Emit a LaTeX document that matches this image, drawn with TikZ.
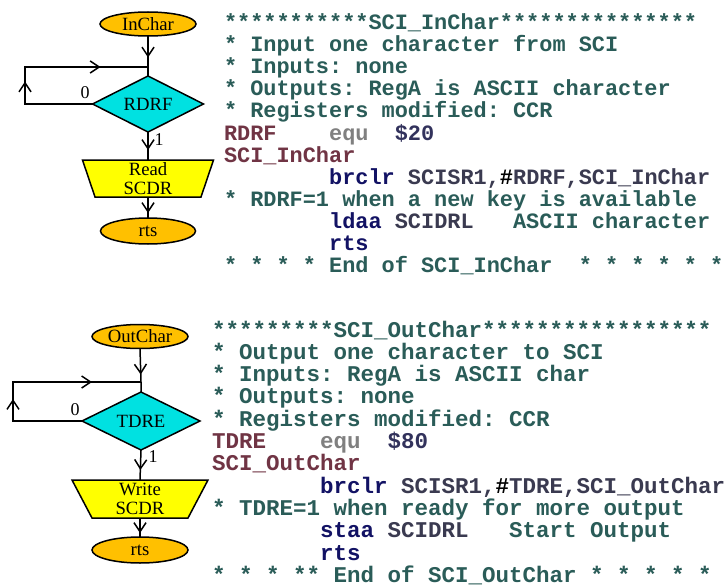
\documentclass[tikz,border=0pt]{standalone}
\usepackage{fontspec}
\usetikzlibrary{shapes.geometric,arrows.meta,decorations.markings,backgrounds}
\newfontfamily\chartfont{Liberation Serif}
\newfontfamily\codefont{Liberation Mono}

% flowchart colours
\definecolor{termfill}{RGB}{255,192,0}
\definecolor{testfill}{RGB}{0,225,225}
\definecolor{iofill}{RGB}{255,255,0}
% listing colours
\definecolor{cmt}{RGB}{42,92,88}
\definecolor{lbl}{RGB}{112,52,68}
\definecolor{eqc}{RGB}{128,128,128}
\definecolor{numc}{RGB}{50,50,92}
\definecolor{opc}{RGB}{18,18,100}
\definecolor{argc}{RGB}{58,58,80}

\newcommand\kcm[1]{{\color{cmt}#1}}
\newcommand\klb[1]{{\color{lbl}#1}}
\newcommand\keq[1]{{\color{eqc}#1}}
\newcommand\knum[1]{{\color{numc}#1}}
\newcommand\kop[1]{{\color{opc}#1}}
\newcommand\karg[1]{{\color{argc}#1}}
\newcommand\sk[1]{\hspace*{\dimexpr 0.6em*#1\relax}}

\tikzset{
  flow/.style={line width=1.5pt, draw=black},
  terminal/.style={ellipse, flow, fill=termfill, inner sep=0pt, outer sep=0pt,
    font=\chartfont\fontsize{18.7}{18}\selectfont},
  test/.style={diamond, flow, fill=testfill, inner sep=0pt, outer sep=0pt, shape aspect=2,
    font=\chartfont\fontsize{18.7}{18}\selectfont},
  iobox/.style={rectangle, inner sep=0pt, outer sep=0pt, align=center,
    font=\chartfont\fontsize{18.7}{18.5}\selectfont},
  branch/.style={inner sep=0pt, font=\chartfont\fontsize{18}{18}\selectfont},
  tipA/.tip={Straight Barb[length=9pt,width=12pt]},
  arrowat/.style={postaction={decorate,decoration={markings,
    mark=at position #1 with {\arrow[line width=1.5pt]{tipA}}}}},
  codeA/.style={anchor=base west, inner sep=0pt, outer sep=0pt,
    font=\codefont\bfseries\fontsize{21.9}{22.5}\selectfont\frenchspacing},
  codeB/.style={anchor=base west, inner sep=0pt, outer sep=0pt,
    font=\codefont\bfseries\fontsize{22.5}{22.6}\selectfont\frenchspacing},
}

\begin{document}
\begin{tikzpicture}[x=1pt,y=-1pt]
\begin{scope}[on background layer]
  \fill[white] (0,0) rectangle (726,586);
\end{scope}
\useasboundingbox (0,0) rectangle (726,586);

% ---------- SCI_InChar flowchart ----------
\node[terminal, minimum width=96pt, minimum height=24pt] (inchar) at (148,24) {InChar};
\node[test, minimum width=111pt, minimum height=56pt] (rdrf) at (148,104) {RDRF};
\node[iobox, minimum width=131pt, minimum height=37pt] (read) at (148,178.5) {Read\\SCDR};
\node[terminal, minimum width=95pt, minimum height=26pt] (rtsA) at (148,231) {rts};
\coordinate (j1) at (148,67);
\coordinate (l1) at (25,67);
\coordinate (l2) at (25,104);
\begin{scope}[on background layer]
  \draw[flow, fill=iofill] (read.north west) -- (read.north east)
    -- ([xshift=-12.5pt]read.south east) -- ([xshift=12.5pt]read.south west) -- cycle;
\end{scope}
\draw[flow, arrowat=21.5pt] (inchar.south) -- (j1) -- (rdrf.north);
\draw[flow, line join=miter, arrowat=90pt, arrowat=180pt] (rdrf.west) -- (l2) -- (l1) -- (j1);
\draw[flow, arrowat=18pt] (rdrf.south) -- (read.north);
\draw[flow, arrowat=16pt] (read.south) -- (rtsA.north);
\node[branch] (zeroA) at (85,93) {0};
\node[branch] (oneA) at (159,140) {1};

% ---------- SCI_OutChar flowchart ----------
\node[terminal, minimum width=96pt, minimum height=24pt] (outchar) at (140,336.5) {OutChar};
\node[test, minimum width=118pt, minimum height=58pt] (tdre) at (141,421) {TDRE};
\node[iobox, minimum width=136pt, minimum height=38pt] (write) at (140,499) {Write\\SCDR};
\node[terminal, minimum width=96pt, minimum height=26pt] (rtsB) at (140,550) {rts};
\coordinate (j2) at (141,382);
\coordinate (l3) at (13,382);
\coordinate (l4) at (13,421);
\begin{scope}[on background layer]
  \draw[flow, fill=iofill] (write.north west) -- (write.north east)
    -- ([xshift=-20pt]write.south east) -- ([xshift=20pt]write.south west) -- cycle;
\end{scope}
\draw[flow, arrowat=26pt] (outchar.south) -- (j2) -- (tdre.north);
\draw[flow, line join=miter, arrowat=91pt, arrowat=187pt] (tdre.west) -- (l4) -- (l3) -- (j2);
\draw[flow, arrowat=20pt] (tdre.south) -- (write.north);
\draw[flow, arrowat=15pt] (write.south) -- (rtsB.north);
\node[branch] (zeroB) at (75,410) {0};
\node[branch] (oneB) at (153,457) {1};

% ---------- SCI_InChar listing ----------
\node[codeA] (a1)  at (224,29.5)  {\kcm{***********SCI\_InChar***************}};
\node[codeA] (a2)  at (224,51.6)  {\kcm{* Input one character from SCI}};
\node[codeA] (a3)  at (224,73.7)  {\kcm{* Inputs: none}};
\node[codeA] (a4)  at (224,95.8)  {\kcm{* Outputs: RegA is ASCII character}};
\node[codeA] (a5)  at (224,117.9) {\kcm{* Registers modified: CCR}};
\node[codeA] (a6)  at (224,140)   {\klb{RDRF}\sk4\keq{equ}\sk2\knum{\$20}};
\node[codeA] (a7)  at (224,162.1) {\klb{SCI\_InChar}};
\node[codeA] (a8)  at (224,184.2) {\sk8\kop{brclr}\sk1\karg{SCISR1,}\#\karg{RDRF,SCI\_InChar}};
\node[codeA] (a9)  at (224,206.3) {\kcm{* RDRF=1 when a new key is available}};
\node[codeA] (a10) at (224,228.4) {\sk8\kop{ldaa}\sk1\karg{SCIDRL}\sk3\kcm{ASCII character}};
\node[codeA] (a11) at (224,250.5) {\sk8\kop{rts}};
\node[codeA] (a12) at (224,272.6) {\kcm{* * * * End of SCI\_InChar\sk2* * * * * *}};

% ---------- SCI_OutChar listing ----------
\node[codeB] (b1)  at (212,337)   {\kcm{*********SCI\_OutChar*****************}};
\node[codeB] (b2)  at (212,359.3) {\kcm{* Output one character to SCI}};
\node[codeB] (b3)  at (212,381.6) {\kcm{* Inputs: RegA is ASCII char}};
\node[codeB] (b4)  at (212,403.9) {\kcm{* Outputs: none}};
\node[codeB] (b5)  at (212,426.2) {\kcm{* Registers modified: CCR}};
\node[codeB] (b6)  at (212,448.5) {\klb{TDRE}\sk4\keq{equ}\sk2\knum{\$80}};
\node[codeB] (b7)  at (212,470.8) {\klb{SCI\_OutChar}};
\node[codeB] (b8)  at (212,493.1) {\sk8\kop{brclr}\sk1\karg{SCISR1,}\#\karg{TDRE,SCI\_OutChar}};
\node[codeB] (b9)  at (212,515.4) {\kcm{* TDRE=1 when ready for more output}};
\node[codeB] (b10) at (212,537.7) {\sk8\kop{staa}\sk1\karg{SCIDRL}\sk3\kcm{Start Output}};
\node[codeB] (b11) at (212,560)   {\sk8\kop{rts}};
\node[codeB] (b12) at (212,582.3) {\kcm{* * * ** End of SCI\_OutChar * * * * *}};
\end{tikzpicture}
\end{document}
